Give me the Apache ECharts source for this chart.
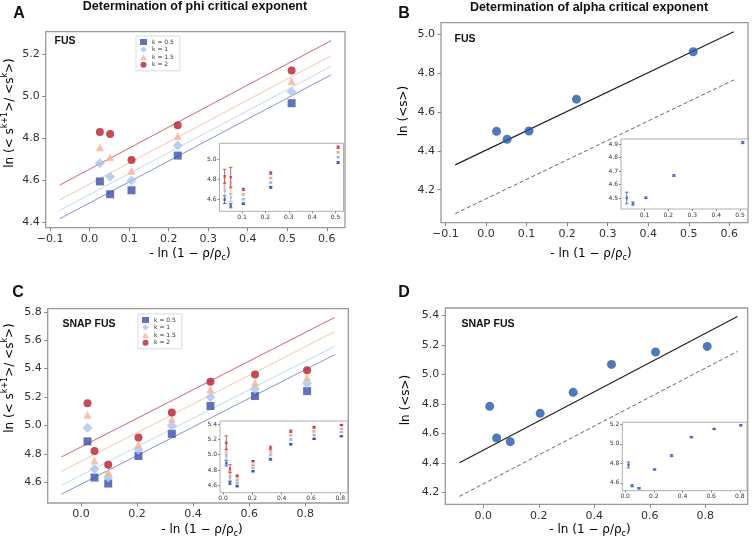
<!DOCTYPE html>
<html><head><meta charset="utf-8">
<script src="https://cdn.jsdelivr.net/npm/echarts@6/dist/echarts.min.js"></script>
<style>html,body{margin:0;padding:0;background:#fff}#c{width:752px;height:544px}</style>
</head><body><div id="c"></div>
<script>
// ---------- data ----------
const kNames = ['k = 0.5', 'k = 1', 'k = 1.5', 'k = 2'];

// Panel A (FUS, phi)
const xA = [0.026, 0.052, 0.106, 0.223, 0.511];
const aK05 = [4.594, 4.533, 4.552, 4.717, 4.966];
const aK1  = [4.680, 4.616, 4.598, 4.765, 5.021];
const aK15 = [4.757, 4.709, 4.645, 4.810, 5.070];
const aK2  = [4.829, 4.819, 4.696, 4.861, 5.121];
const aErr05 = [0.040, 0.022, 0.008, 0.008, 0.008];
const aErr1  = [0.050, 0.040, 0.008, 0.008, 0.008];
const aErr15 = [0.055, 0.060, 0.010, 0.008, 0.008];
const aErr2  = [0.070, 0.100, 0.012, 0.012, 0.012];
const fitXA = [-0.076, 0.611];
const aFit05 = [4.416, 5.101];
const aFit1  = [4.456, 5.141];
const aFit15 = [4.506, 5.192];
const aFit2  = [4.576, 5.264];

// Panel B (FUS, alpha)
const xB = [0.026, 0.052, 0.106, 0.223, 0.511];
const bS = [4.501, 4.460, 4.503, 4.667, 4.911];
const bErr = [0.043, 0.012, 0.006, 0.006, 0.008];
const fitXB = [-0.076, 0.611];
const bFit = [4.328, 5.014];
const bDash = [4.077, 4.766];

// Panel C (SNAP FUS, phi)
const xC = [0.023, 0.048, 0.097, 0.205, 0.324, 0.462, 0.621, 0.807];
const cK05 = [4.888, 4.633, 4.591, 4.785, 4.941, 5.137, 5.207, 5.242];
const cK1  = [4.984, 4.694, 4.633, 4.829, 4.998, 5.199, 5.257, 5.295];
const cK15 = [5.075, 4.754, 4.673, 4.867, 5.047, 5.255, 5.304, 5.339];
const cK2  = [5.157, 4.820, 4.724, 4.916, 5.091, 5.307, 5.358, 5.388];
const cErr05 = [0.035, 0.020, 0.010, 0.008, 0.012, 0.010, 0.008, 0.006];
const cErr1  = [0.050, 0.030, 0.010, 0.008, 0.012, 0.010, 0.008, 0.006];
const cErr15 = [0.070, 0.040, 0.012, 0.008, 0.015, 0.012, 0.008, 0.006];
const cErr2  = [0.090, 0.050, 0.012, 0.008, 0.020, 0.015, 0.010, 0.006];
const fitXC = [-0.07, 0.905];
const cFit05 = [4.516, 5.498];
const cFit1  = [4.579, 5.557];
const cFit15 = [4.677, 5.660];
const cFit2  = [4.778, 5.760];

// Panel D (SNAP FUS, alpha)
const xD = [0.023, 0.048, 0.097, 0.205, 0.324, 0.462, 0.621, 0.807];
const dS = [4.784, 4.570, 4.545, 4.737, 4.879, 5.068, 5.152, 5.190];
const dErr = [0.030, 0.010, 0.006, 0.006, 0.010, 0.006, 0.006, 0.006];
const fitXD = [-0.086, 0.916];
const dFit = [4.402, 5.393];
const dDash = [4.175, 5.156];

// tick labels
const ticksXAB = [-0.1, 0.0, 0.1, 0.2, 0.3, 0.4, 0.5, 0.6];
const ticksYA = [4.4, 4.6, 4.8, 5.0, 5.2];
const ticksYB = [4.2, 4.4, 4.6, 4.8, 5.0];
const ticksXCD = [0.0, 0.2, 0.4, 0.6, 0.8];
const ticksYC = [4.6, 4.8, 5.0, 5.2, 5.4, 5.6, 5.8];
const ticksYD = [4.2, 4.4, 4.6, 4.8, 5.0, 5.2, 5.4];
const insTicksXAB = [0.1, 0.2, 0.3, 0.4, 0.5];
const insTicksYA = [4.6, 4.8, 5.0];
const insTicksYB = [4.5, 4.6, 4.7, 4.8, 4.9];
const insTicksXCD = [0.0, 0.2, 0.4, 0.6, 0.8];
const insTicksYC = [4.6, 4.8, 5.0, 5.2, 5.4];
const insTicksYD = [4.6, 4.8, 5.0, 5.2];

// ---------- styles ----------
const ptColors = ['#3a4fa6', '#a9c4ec', '#f5b295', '#b51f2c'];
const fitColors = ['#8591d8', '#c4d5f0', '#f5c4ae', '#d8606c'];
const errColors = ['rgba(58,79,166,0.85)', 'rgba(150,180,230,0.8)', 'rgba(240,165,135,0.8)', 'rgba(190,40,55,0.75)'];
const symbols = ['rect', 'diamond', 'triangle', 'circle'];
const symSizes = [8, 10, 8, 8];
const dotColor = '#2657a8';

const fmt1 = v => (v < 0 ? '\u2212' + Math.abs(v).toFixed(1) : v.toFixed(1));

function grid(l, t, w, h, inset) {
  return { left: l, top: t, width: w, height: h, show: true, outerBoundsMode: 'none', containLabel: false,
    borderColor: inset ? '#b0b0b0' : '#9a9a9a', borderWidth: inset ? 1 : 1.3,
    backgroundColor: inset ? '#fff' : 'transparent', z: inset ? 5 : 0 };
}
function axis(gi, min, max, ticks, inset) {
  return { type: 'value', gridIndex: gi, min: min, max: max, z: inset ? 6 : 0,
    axisLine: { show: false, onZero: false }, splitLine: { show: false },
    axisTick: { show: true, length: inset ? 2 : 3.5, customValues: ticks, lineStyle: { color: '#888', width: 1 } },
    axisLabel: { customValues: ticks, formatter: fmt1, fontSize: inset ? 6 : 11, color: '#333',
      margin: inset ? 3 : 6, fontFamily: 'DejaVu Sans' } };
}

function errRender(params, api) {
  const x = api.value(0), y = api.value(1), e = api.value(2);
  const t = api.coord([x, y + e]), b = api.coord([x, y - e]), m = api.coord([x, y]);
  const c = api.visual('color');
  const cw = 1.8;
  const st = { stroke: c, lineWidth: 1 };
  return { type: 'group', children: [
    { type: 'line', shape: { x1: t[0], y1: t[1], x2: b[0], y2: b[1] }, style: st },
    { type: 'line', shape: { x1: t[0] - cw, y1: t[1], x2: t[0] + cw, y2: t[1] }, style: st },
    { type: 'line', shape: { x1: b[0] - cw, y1: b[1], x2: b[0] + cw, y2: b[1] }, style: st },
    { type: 'rect', shape: { x: m[0] - 1.2, y: m[1] - 1.2, width: 2.4, height: 2.4 }, style: { fill: c } }
  ] };
}

const series = [];
function fitLine(xi, yi, xs, ys, color, dashed, width) {
  series.push({ type: 'line', xAxisIndex: xi, yAxisIndex: yi, silent: true, symbol: 'none', z: 1,
    data: [[xs[0], ys[0]], [xs[1], ys[1]]],
    lineStyle: { color: color, width: width || 1, type: dashed ? [4, 2.5] : 'solid' } });
}
function pts(xi, xs, ys, name, sym, size, color) {
  series.push({ type: 'scatter', name: name, xAxisIndex: xi, yAxisIndex: xi, silent: true, z: 3,
    data: xs.map((x, j) => [x, ys[j]]), symbol: sym, symbolSize: size, itemStyle: { color: color } });
}
function errs(xi, xs, ys, es, color) {
  series.push({ type: 'custom', xAxisIndex: xi, yAxisIndex: xi, silent: true, z: 7,
    data: xs.map((x, j) => [x, ys[j], es[j]]), encode: { x: 0, y: 1 },
    renderItem: errRender, itemStyle: { color: color } });
}

const aK = [aK05, aK1, aK15, aK2], aE = [aErr05, aErr1, aErr15, aErr2], aF = [aFit05, aFit1, aFit15, aFit2];
const cK = [cK05, cK1, cK15, cK2], cE = [cErr05, cErr1, cErr15, cErr2], cF = [cFit05, cFit1, cFit15, cFit2];
for (let i = 0; i < 4; i++) fitLine(0, 0, fitXA, aF[i], fitColors[i]);
for (let i = 0; i < 4; i++) pts(0, xA, aK[i], kNames[i], symbols[i], symSizes[i], ptColors[i]);
fitLine(1, 1, fitXB, bFit, '#222', false, 1.2);
fitLine(1, 1, fitXB, bDash, '#666', true, 1);
pts(1, xB, bS, 'B', 'circle', 9, dotColor);
for (let i = 0; i < 4; i++) fitLine(2, 2, fitXC, cF[i], fitColors[i]);
for (let i = 0; i < 4; i++) pts(2, xC, cK[i], kNames[i], symbols[i], symSizes[i], ptColors[i]);
fitLine(3, 3, fitXD, dFit, '#222', false, 1.2);
fitLine(3, 3, fitXD, dDash, '#666', true, 1);
pts(3, xD, dS, 'D', 'circle', 9, dotColor);
for (let i = 0; i < 4; i++) errs(4, xA, aK[i], aE[i], errColors[i]);
errs(5, xB, bS, bErr, 'rgba(60,100,200,0.85)');
for (let i = 0; i < 4; i++) errs(6, xC, cK[i], cE[i], errColors[i]);
errs(7, xD, dS, dErr, 'rgba(60,100,200,0.85)');

const TF = '"Liberation Sans", Arial, sans-serif';
const AF = '"DejaVu Sans", sans-serif';
function txt(x, y, text, font, opts) {
  return Object.assign({ type: 'text', x: x, y: y, z: 20,
    style: { text: text, font: font, fill: '#111', textAlign: 'center', textVerticalAlign: 'middle', align: 'center', verticalAlign: 'middle' } }, opts || {});
}
const yRich = { n: { fontSize: 12, fontFamily: AF, lineHeight: 18, verticalAlign: 'middle', color: '#111' },
  sup: { fontSize: 8, fontFamily: AF, lineHeight: 18, verticalAlign: 'top', color: '#111' } };
const xRich = { n: { fontSize: 12, fontFamily: AF, lineHeight: 16, verticalAlign: 'middle', color: '#111' },
  sub: { fontSize: 8, fontFamily: AF, lineHeight: 16, verticalAlign: 'bottom', color: '#111' } };
function richTxt(x, y, text, rich, rot) {
  return { type: 'text', x: x, y: y, rotation: rot || 0, z: 20,
    style: { text: text, rich: rich, textAlign: 'center', textVerticalAlign: 'middle', align: 'center', verticalAlign: 'middle' } };
}
const yNameK = '{n|ln (< s}{sup|k+1}{n|>/ <s}{sup|k}{n|>)}';
const yNameS = '{n|ln (<s>)}';
const xName = '{n|- ln (1 \u2212 \u03c1/\u03c1}{sub|c}{n|)}';

const graphic = [
  txt(195, 7, 'Determination of phi critical exponent', 'bold 12.5px ' + TF),
  txt(589, 8, 'Determination of alpha critical exponent', 'bold 12.5px ' + TF),
  txt(19, 14, 'A', 'bold 16px ' + TF),
  txt(404, 14, 'B', 'bold 16px ' + TF),
  txt(18, 293, 'C', 'bold 16px ' + TF),
  txt(404, 293, 'D', 'bold 16px ' + TF),
  txt(65, 41, 'FUS', 'bold 10.5px ' + TF),
  txt(465, 39, 'FUS', 'bold 10.5px ' + TF),
  txt(89, 324.5, 'SNAP FUS', 'bold 10.5px ' + TF),
  txt(488, 324.5, 'SNAP FUS', 'bold 10.5px ' + TF),
  richTxt(10, 113, yNameK, yRich, Math.PI / 2),
  richTxt(404, 111, yNameS, yRich, Math.PI / 2),
  richTxt(10, 378, yNameK, yRich, Math.PI / 2),
  richTxt(406, 400, yNameS, yRich, Math.PI / 2),
  richTxt(190, 254, xName, xRich),
  richTxt(591, 254, xName, xRich),
  richTxt(202, 530, xName, xRich),
  richTxt(590, 530, xName, xRich)
];

function legend(l, t) {
  return { data: kNames, orient: 'vertical', left: l, top: t, itemWidth: 7, itemHeight: 6, itemGap: 1.6,
    padding: [3, 6, 3, 4], borderColor: '#cccccc', borderWidth: 0.7, backgroundColor: '#fff',
    selectedMode: false, textStyle: { fontSize: 6, color: '#333', fontFamily: AF } };
}

const option = {
  animation: false,
  backgroundColor: '#fff',
  grid: [
    grid(45.7, 31.7, 299.3, 196, false),
    grid(441, 22.7, 307, 200, false),
    grid(47.7, 308.7, 300.6, 194.3, false),
    grid(445.3, 308, 302.4, 196.3, false),
    grid(219.5, 143.3, 124, 68, true),
    grid(621, 139, 127, 70, true),
    grid(220, 421, 127.7, 71.7, true),
    grid(622.3, 422.3, 124.7, 68.4, true)
  ],
  xAxis: [
    axis(0, -0.111, 0.646, ticksXAB, false),
    axis(1, -0.111, 0.646, ticksXAB, false),
    axis(2, -0.119, 0.954, ticksXCD, false),
    axis(3, -0.137, 0.953, ticksXCD, false),
    axis(4, 0.004, 0.534, insTicksXAB, true),
    axis(5, 0.002, 0.533, insTicksXAB, true),
    axis(6, -0.02, 0.85, insTicksXCD, true),
    axis(7, -0.02, 0.85, insTicksXCD, true)
  ],
  yAxis: [
    axis(0, 4.374, 5.306, ticksYA, false),
    axis(1, 4.03, 5.061, ticksYB, false),
    axis(2, 4.454, 5.822, ticksYC, false),
    axis(3, 4.121, 5.45, ticksYD, false),
    axis(4, 4.476, 5.16, insTicksYA, true),
    axis(5, 4.42, 4.937, insTicksYB, true),
    axis(6, 4.505, 5.44, insTicksYC, true),
    axis(7, 4.52, 5.22, insTicksYD, true)
  ],
  legend: [legend(136, 36), legend(138, 314)],
  graphic: graphic,
  series: series
};
const chart = echarts.init(document.getElementById('c'), null, { renderer: 'canvas' });
chart.setOption(option);
</script></body></html>
